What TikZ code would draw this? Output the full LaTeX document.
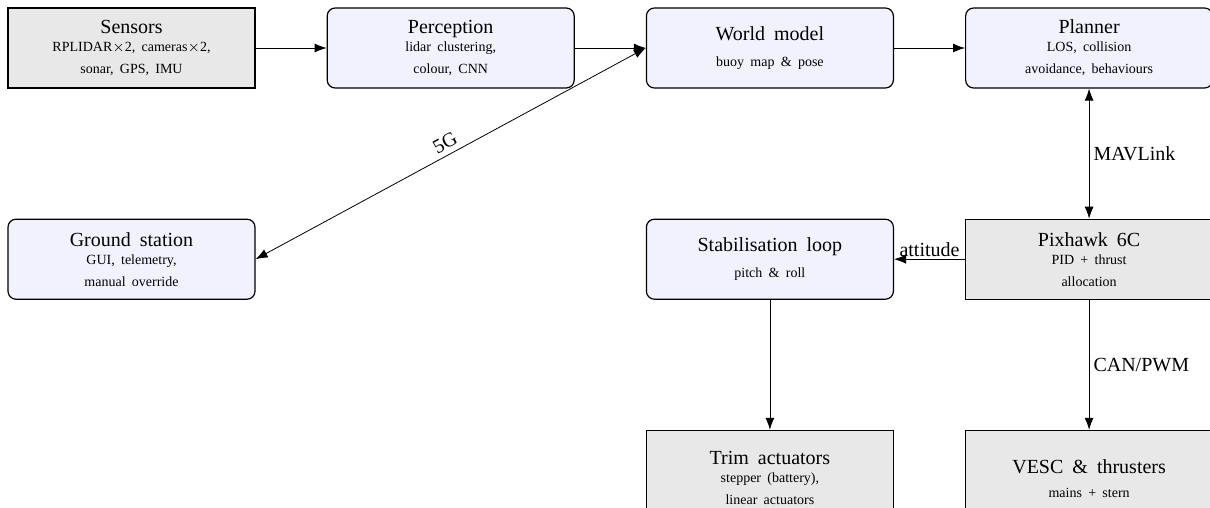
\documentclass[tikz,border=0pt]{standalone}
\usepackage{fontspec}
\setmainfont{Liberation Serif}[WordSpace=1.8]
\usetikzlibrary{positioning,arrows.meta}

\begin{document}
\begin{tikzpicture}
  [
      soft/.style={rectangle, rounded corners=4pt, draw, fill=blue!5, line width=0.6pt,
        minimum height=40pt, minimum width=123.5pt, align=center, inner sep=2pt},
      hard/.style={rectangle, draw, fill=gray!18, line width=0.6pt,
        minimum height=40pt, minimum width=123.5pt, align=center, inner sep=2pt},
      tall/.style={minimum height=48pt},
      link/.style={thin, -{Latex[length=6pt,width=4.5pt]}},
      both/.style={thin, {Latex[length=6pt,width=4.5pt]}-{Latex[length=6pt,width=4.5pt]}},
    ]
    \useasboundingbox (0,0) rectangle (605pt,-254pt);

    % top row
    \node (sensors) [hard] at (65.75pt,-24pt)
      {Sensors\\[-3pt]\scriptsize RPLIDAR$\times$2, cameras$\times$2,\\[-1pt]\scriptsize sonar, GPS, IMU};
    \node (percept) [soft, right=35.5pt of sensors]
      {Perception\\[-3pt]\scriptsize lidar clustering,\\[-1pt]\scriptsize colour, CNN};
    \node (world) [soft, right=35.5pt of percept]
      {World model\\[1pt]\scriptsize buoy map \& pose};
    \node (planner) [soft, right=35.5pt of world]
      {Planner\\[-3pt]\scriptsize LOS, collision\\[-1pt]\scriptsize avoidance, behaviours};

    % middle row
    \node (ground) [soft, below=65pt of sensors]
      {Ground station\\[-3pt]\scriptsize GUI, telemetry,\\[-1pt]\scriptsize manual override};
    \node (stab) [soft, below=65pt of world]
      {Stabilisation loop\\[1pt]\scriptsize pitch \& roll};
    \node (pixhawk) [hard, below=65pt of planner]
      {Pixhawk 6C\\[-3pt]\scriptsize PID + thrust\\[-1pt]\scriptsize allocation};

    % bottom row
    \node (trim) [hard, tall, below=65pt of stab]
      {Trim actuators\\[-3pt]\scriptsize stepper (battery),\\[-1pt]\scriptsize linear actuators};
    \node (vesc) [hard, tall, below=65pt of pixhawk]
      {VESC \& thrusters\\\scriptsize mains + stern};

    \draw [link] (sensors) -- (percept);
    \draw [link] (percept) -- (world);
    \draw [link] (world) -- (planner);
    \draw [both] (world.west) -- (ground.east) node [midway, above, sloped, inner sep=2.5pt] {5G};
    \draw [both] (planner) -- (pixhawk) node [midway, right, inner sep=2pt] {MAVLink};
    \draw [link] (pixhawk) -- (stab) node [midway, above, inner sep=1pt] {attitude};
    \draw [link] (pixhawk) -- (vesc) node [midway, right, inner sep=2pt] {CAN/PWM};
    \draw [link] (stab) -- (trim);

  \end{tikzpicture}
\end{document}
